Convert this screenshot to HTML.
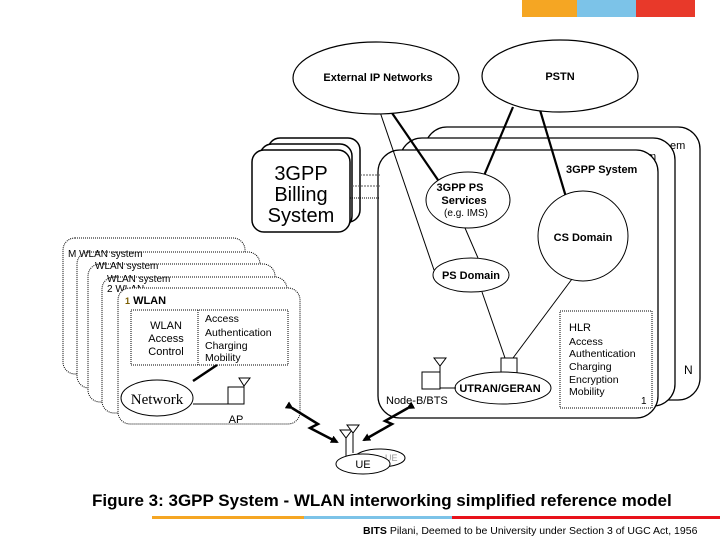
<!DOCTYPE html>
<html><head><style>
body{margin:0;background:#fff;}
svg{display:block;font-family:"Liberation Sans",Arial,sans-serif;}
</style></head><body>
<svg width="720" height="540" viewBox="0 0 720 540" xmlns="http://www.w3.org/2000/svg">
<defs>
<marker id="ah" markerWidth="8" markerHeight="8" refX="6" refY="4" orient="auto" markerUnits="userSpaceOnUse"><path d="M0,0 L8,4 L0,8 Z" fill="#000"/></marker>
</defs>
<!-- top bar -->
<rect x="522" y="0" width="55" height="17" fill="#f5a623"/>
<rect x="577" y="0" width="59" height="17" fill="#7cc3e8"/>
<rect x="636" y="0" width="59" height="17" fill="#e8392a"/>

<!-- 3GPP systems -->
<rect x="425" y="127" width="275" height="273" rx="22" fill="#fff" stroke="#000" stroke-width="1.3"/>
<text x="670" y="149" font-size="11">em</text>
<rect x="400" y="138" width="275" height="268" rx="22" fill="#fff" stroke="#000" stroke-width="1.3"/>
<text x="647" y="160" font-size="11">m</text>
<text x="684" y="374" font-size="12">N</text>
<rect x="378" y="150" width="280" height="268" rx="22" fill="#fff" stroke="#000" stroke-width="1.3"/>
<text x="566" y="173" font-size="11" font-weight="bold">3GPP System</text>

<!-- billing -->
<rect x="268" y="138" width="92" height="84" rx="12" fill="#fff" stroke="#000" stroke-width="1.5"/>
<rect x="260" y="144" width="92" height="84" rx="12" fill="#fff" stroke="#000" stroke-width="1.5"/>
<rect x="252" y="150" width="98" height="82" rx="12" fill="#fff" stroke="#000" stroke-width="1.5"/>
<text x="301" y="180" font-size="20" text-anchor="middle">3GPP</text>
<text x="301" y="201" font-size="20" text-anchor="middle">Billing</text>
<text x="301" y="222" font-size="20" text-anchor="middle">System</text>
<line x1="360" y1="175" x2="380" y2="175" stroke="#555" stroke-dasharray="2,1"/>
<line x1="352" y1="186" x2="380" y2="186" stroke="#555" stroke-dasharray="2,1"/>
<line x1="350" y1="198" x2="380" y2="198" stroke="#000" stroke-dasharray="1,1"/>

<!-- connectors -->
<line x1="380" y1="112" x2="434" y2="270" stroke="#000" stroke-width="1"/>
<line x1="392" y1="113" x2="438" y2="180" stroke="#000" stroke-width="2.2"/>
<line x1="513" y1="107" x2="483" y2="178" stroke="#000" stroke-width="2.2"/>
<line x1="540" y1="110" x2="566" y2="197" stroke="#000" stroke-width="2.2"/>
<line x1="465" y1="228" x2="478" y2="258" stroke="#000" stroke-width="1"/>
<line x1="482" y1="292" x2="505" y2="358" stroke="#000" stroke-width="1"/>
<line x1="572" y1="279" x2="513" y2="358" stroke="#000" stroke-width="1"/>

<!-- top ellipses -->
<ellipse cx="376" cy="78" rx="83" ry="36" fill="#fff" stroke="#000" stroke-width="1.2"/>
<text x="378" y="81" font-size="11" font-weight="bold" text-anchor="middle">External IP Networks</text>
<ellipse cx="560" cy="76" rx="78" ry="36" fill="#fff" stroke="#000" stroke-width="1.2"/>
<text x="560" y="80" font-size="11" font-weight="bold" text-anchor="middle">PSTN</text>

<!-- inner nodes -->
<ellipse cx="468" cy="200" rx="42" ry="28" fill="#fff" stroke="#000"/>
<text x="460" y="191" font-size="11" font-weight="bold" text-anchor="middle">3GPP PS</text>
<text x="464" y="204" font-size="11" font-weight="bold" text-anchor="middle">Services</text>
<text x="466" y="216" font-size="10" text-anchor="middle">(e.g. IMS)</text>
<circle cx="583" cy="236" r="45" fill="#fff" stroke="#000"/>
<text x="583" y="241" font-size="11" font-weight="bold" text-anchor="middle">CS Domain</text>
<ellipse cx="471" cy="275" rx="38" ry="17" fill="#fff" stroke="#000"/>
<text x="471" y="279" font-size="11" font-weight="bold" text-anchor="middle">PS Domain</text>
<rect x="501" y="358" width="16" height="16" fill="#fff" stroke="#000"/>
<ellipse cx="503" cy="388" rx="48" ry="16" fill="#fff" stroke="#000"/>
<text x="500" y="392" font-size="11" font-weight="bold" text-anchor="middle">UTRAN/GERAN</text>
<rect x="422" y="372" width="18" height="17" fill="#fff" stroke="#000"/>
<line x1="440" y1="364" x2="440" y2="389" stroke="#000"/>
<path d="M434,358 L446,358 L440,366 Z" fill="#fff" stroke="#000"/>
<line x1="440" y1="388" x2="456" y2="388" stroke="#000"/>
<text x="386" y="404" font-size="11">Node-B/BTS</text>

<rect x="560" y="311" width="92" height="97" fill="none" stroke="#000" stroke-dasharray="1,1"/>
<text x="569" y="331" font-size="11">HLR</text>
<g font-size="10.5"><text x="569" y="345">Access</text><text x="569" y="357">Authentication</text><text x="569" y="370">Charging</text><text x="569" y="383">Encryption</text><text x="569" y="395">Mobility</text></g>
<text x="641" y="404" font-size="10">1</text>

<!-- WLAN stack -->
<g fill="#fff" stroke="#000" stroke-dasharray="1,1">
<rect x="63" y="238" width="182" height="136" rx="12"/>
<rect x="77" y="252" width="183" height="136" rx="12"/>
<rect x="88" y="264" width="187" height="138" rx="12"/>
<rect x="102" y="277" width="185" height="136" rx="12"/>
</g>
<g font-size="10">
<text x="68" y="257">M WLAN system</text>
<text x="95" y="269">WLAN system</text>
<text x="107" y="282">WLAN system</text>
<text x="107" y="292">2 WLAN</text>
</g>
<rect x="118" y="288" width="182" height="136" rx="12" fill="#fff" stroke="#000" stroke-dasharray="1,1"/>
<text x="125" y="304" font-size="11" font-weight="bold"><tspan fill="#7a5c00" font-size="9">1</tspan> WLAN</text>
<rect x="131" y="310" width="157" height="55" fill="none" stroke="#000" stroke-dasharray="1,1"/>
<line x1="198" y1="310" x2="198" y2="365" stroke="#000" stroke-dasharray="1,1"/>
<g font-size="11" text-anchor="middle"><text x="166" y="329">WLAN</text><text x="166" y="342">Access</text><text x="166" y="355">Control</text></g>
<g font-size="10.5"><text x="205" y="322">Access</text><text x="205" y="336">Authentication</text><text x="205" y="349">Charging</text><text x="205" y="361">Mobility</text></g>
<line x1="193" y1="381" x2="217" y2="365" stroke="#000" stroke-width="2.5"/>
<ellipse cx="157" cy="398" rx="36" ry="18" fill="#fff" stroke="#000"/>
<text x="157" y="404" font-size="15" font-family="Liberation Serif,serif" text-anchor="middle">Network</text>
<line x1="193" y1="404" x2="228" y2="404" stroke="#000"/>
<rect x="228" y="387" width="16" height="17" fill="#fff" stroke="#000"/>
<line x1="244" y1="385" x2="244" y2="404" stroke="#000"/>
<path d="M239,378 L250,378 L244,386 Z" fill="#fff" stroke="#000"/>
<text x="236" y="423" font-size="11" text-anchor="middle">AP</text>

<!-- radio links -->
<path d="M292,408 L318,424 L310,428 L337,442" fill="none" stroke="#000" stroke-width="2.5" marker-start="url(#ah)" marker-end="url(#ah)"/>
<path d="M408,408 L385,421 L392,424 L364,440" fill="none" stroke="#000" stroke-width="2.5" marker-start="url(#ah)" marker-end="url(#ah)"/>
<!-- UE -->
<ellipse cx="380" cy="458" rx="25" ry="9" fill="#fff" stroke="#000"/>
<text x="385" y="461" font-size="9" fill="#999">UE</text>
<ellipse cx="363" cy="464" rx="27" ry="10" fill="#fff" stroke="#000"/>
<text x="363" y="468" font-size="11" text-anchor="middle">UE</text>
<line x1="346" y1="436" x2="346" y2="456" stroke="#000"/>
<path d="M340,430 L352,430 L346,438 Z" fill="#fff" stroke="#000"/>
<line x1="353" y1="431" x2="353" y2="453" stroke="#000"/>
<path d="M347,425 L359,425 L353,433 Z" fill="#fff" stroke="#000"/>

<!-- caption -->
<text x="92" y="506" font-size="17" font-weight="bold">Figure 3: 3GPP System - WLAN interworking simplified reference model</text>
<rect x="152" y="516" width="152" height="3" fill="#f5a623"/>
<rect x="304" y="516" width="148" height="3" fill="#7cc3e8"/>
<rect x="452" y="516" width="268" height="3" fill="#e8111a"/>
<text x="363" y="534" font-size="10.5"><tspan font-weight="bold">BITS</tspan> Pilani, Deemed to be University under Section 3 of UGC Act, 1956</text>
</svg>
</body></html>
